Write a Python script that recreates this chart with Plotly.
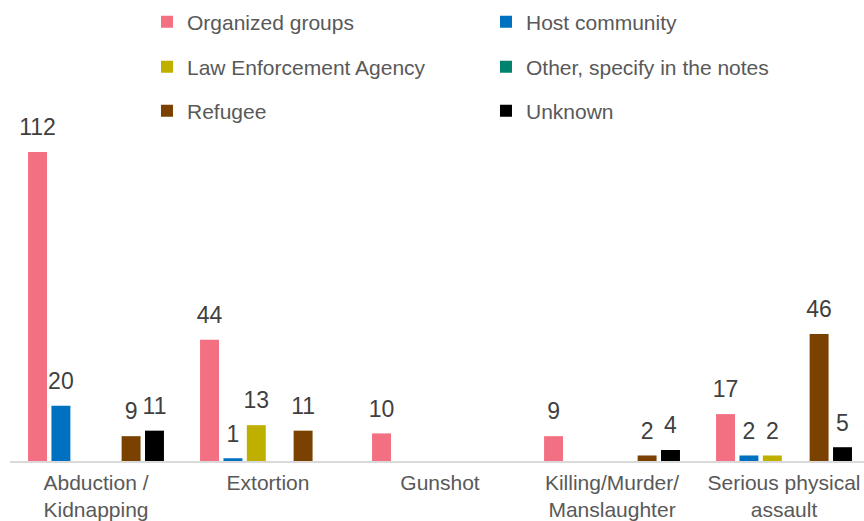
import plotly.graph_objects as go

categories = ["Abduction /<br>Kidnapping", "Extortion", "Gunshot",
              "Killing/Murder/<br>Manslaughter", "Serious physical<br>assault"]
series_names = ["Organized groups", "Host community", "Law Enforcement Agency",
                "Other, specify in the notes", "Refugee", "Unknown"]
organized = [112, 44, 10, 9, 17]
host = [20, 1, None, None, 2]
lea = [None, 13, None, None, 2]
other = [None, None, None, None, None]
refugee = [9, 11, None, 2, 46]
unknown = [11, None, None, 4, 5]
values = [organized, host, lea, other, refugee, unknown]
colors = ["#F36F82", "#0070C0", "#BFB000", "#00826E", "#7A4100", "#000000"]
legend_ids = ["legend", "legend", "legend2", "legend2", "legend3", "legend3"]

FONT = "Liberation Sans, Arial, sans-serif"
FS = 21

fig = go.Figure()
for name, vals, col, lg in zip(series_names, values, colors, legend_ids):
    fig.add_trace(go.Bar(
        x=categories, y=vals, name=name, marker_color=col,
        marker_line_width=0,
        texttemplate="<span style='font-size:23px'>%{y}</span><br>\u00a0",
        textposition="outside", cliponaxis=False, constraintext="none",
        textfont=dict(size=9, color="#404040", family=FONT),
        legend=lg,
    ))

leg_common = dict(orientation="h", xanchor="left", yanchor="middle",
                  x=0.1604, entrywidth=294, entrywidthmode="pixels",
                  font=dict(size=FS, color="#595959", family=FONT),
                  bgcolor="rgba(0,0,0,0)")
fig.update_layout(
    width=864, height=521,
    margin=dict(l=10, r=0, t=130, b=60),
    plot_bgcolor="white", paper_bgcolor="white",
    barmode="group", bargap=0.184, bargroupgap=0.19,
    font=dict(family=FONT, size=FS, color="#595959"),
    legend=dict(**leg_common, y=1.326),
    legend2=dict(**leg_common, y=1.190),
    legend3=dict(**leg_common, y=1.057),
    xaxis=dict(range=[-0.5, 4.465], showline=True, linecolor="#D9D9D9",
               linewidth=1.5, ticks="", showgrid=False, ticklabelstandoff=2,
               automargin=False,
               tickfont=dict(size=FS, color="#595959", family=FONT)),
    yaxis=dict(range=[0, 120], visible=False, showgrid=False, automargin=False),
)
fig.write_html("out.html", config={"displayModeBar": False},
               post_script="document.body.style.margin='0';")
